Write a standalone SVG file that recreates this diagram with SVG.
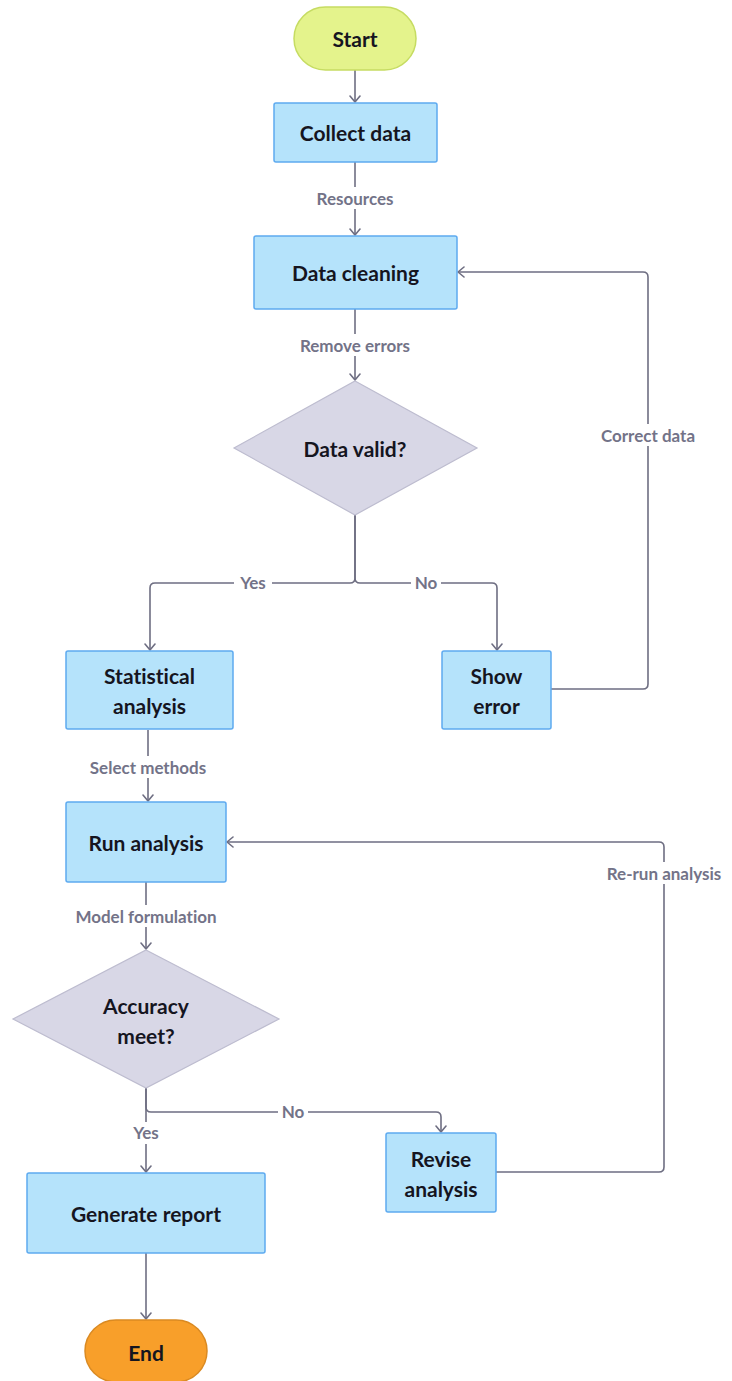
<svg xmlns="http://www.w3.org/2000/svg" width="732" height="1381" viewBox="0 0 732 1381">
  <defs>
    <marker id="arrow" viewBox="0 0 12 12" refX="11" refY="6" markerWidth="12" markerHeight="12" markerUnits="userSpaceOnUse" orient="auto">
      <path d="M5,1 L11,6 L5,11" fill="none" stroke="#6e6e82" stroke-width="1.6" stroke-linecap="round" stroke-linejoin="round"/>
    </marker>
  </defs>
  <style>
    .box { fill: #b5e3fb; stroke: #5eaaf0; stroke-width: 1.5; }
    .dec { fill: #d8d7e6; stroke: #bdbccf; stroke-width: 1.2; }
    .start { fill: #e4f38c; stroke: #c6dc62; stroke-width: 1.5; }
    .end { fill: #f89f2a; stroke: #da8a22; stroke-width: 1.5; }
    .txt { font-family: Lato, "Noto Sans", sans-serif; font-weight: 700; font-size: 21px; fill: #15151f; text-anchor: middle; dominant-baseline: central; font-variant-ligatures: none; }
    .edge { fill: none; stroke: #6e6e82; stroke-width: 1.6; marker-end: url(#arrow); }
    .lbl { font-family: Lato, "Noto Sans", sans-serif; font-weight: 700; font-size: 17px; fill: #737388; text-anchor: middle; dominant-baseline: central; font-variant-ligatures: none; }
    .lblbg { fill: #ffffff; }
  </style>
  <rect width="732" height="1381" fill="#ffffff"/>

  <!-- connectors -->
  <g id="connectors">
    <path class="edge" d="M355,70 V102"/>
    <path class="edge" d="M355,162 V235"/>
    <path class="edge" d="M355,309 V380"/>
    <path class="edge" d="M355,515 V578 Q355,583 350,583 H155 Q150,583 150,588 V650"/>
    <path class="edge" d="M355,515 V578 Q355,583 360,583 H492 Q497,583 497,588 V650"/>
    <path class="edge" d="M551,689 H643 Q648,689 648,684 V277 Q648,272 643,272 H458"/>
    <path class="edge" d="M148,730 V801"/>
    <path class="edge" d="M146,882 V949"/>
    <path class="edge" d="M146,1088 V1172"/>
    <path class="edge" d="M146,1088 V1107 Q146,1112 151,1112 H436 Q441,1112 441,1117 V1132"/>
    <path class="edge" d="M496,1172 H659 Q664,1172 664,1167 V847 Q664,842 659,842 H227"/>
    <path class="edge" d="M146,1253 V1319"/>

    <!-- edge labels -->
    <rect class="lblbg" x="305" y="187" width="100" height="22"/>
    <text class="lbl" x="355" y="198">Resources</text>
    <rect class="lblbg" x="292" y="334" width="126" height="22"/>
    <text class="lbl" x="355" y="345">Remove errors</text>
    <rect class="lblbg" x="234" y="572" width="38" height="22"/>
    <text class="lbl" x="253" y="582">Yes</text>
    <rect class="lblbg" x="411" y="572" width="30" height="22"/>
    <text class="lbl" x="426" y="582">No</text>
    <rect class="lblbg" x="593" y="424" width="110" height="22"/>
    <text class="lbl" x="648" y="435">Correct data</text>
    <rect class="lblbg" x="80" y="756" width="136" height="22"/>
    <text class="lbl" x="148" y="767">Select methods</text>
    <rect class="lblbg" x="66" y="905" width="160" height="22"/>
    <text class="lbl" x="146" y="916">Model formulation</text>
    <rect class="lblbg" x="126" y="1122" width="40" height="22"/>
    <text class="lbl" x="146" y="1132">Yes</text>
    <rect class="lblbg" x="278" y="1101" width="30" height="22"/>
    <text class="lbl" x="293" y="1111">No</text>
    <rect class="lblbg" x="596" y="862" width="136" height="22"/>
    <text class="lbl" x="664" y="873">Re-run analysis</text>
  </g>

  <!-- nodes -->
  <g id="start">
    <rect class="start" x="294" y="7" width="122" height="63" rx="31.5"/>
    <text class="txt" x="355" y="38.5">Start</text>
  </g>
  <g id="collect-data">
    <rect class="box" x="274" y="103" width="163" height="59" rx="2"/>
    <text class="txt" x="355.5" y="132.5">Collect data</text>
  </g>
  <g id="data-cleaning">
    <rect class="box" x="254" y="236" width="203" height="73" rx="2"/>
    <text class="txt" x="355.5" y="272.5">Data cleaning</text>
  </g>
  <g id="data-valid">
    <polygon class="dec" points="355,381 477,448 355,515 234,448"/>
    <text class="txt" x="355" y="448">Data valid?</text>
  </g>
  <g id="statistical-analysis">
    <rect class="box" x="66" y="651" width="167" height="78" rx="2"/>
    <text class="txt" x="149.5" y="675">Statistical</text>
    <text class="txt" x="149.5" y="705">analysis</text>
  </g>
  <g id="show-error">
    <rect class="box" x="442" y="651" width="109" height="78" rx="2"/>
    <text class="txt" x="496.5" y="675">Show</text>
    <text class="txt" x="496.5" y="705">error</text>
  </g>
  <g id="run-analysis">
    <rect class="box" x="66" y="802" width="160" height="80" rx="2"/>
    <text class="txt" x="146" y="842">Run analysis</text>
  </g>
  <g id="accuracy-meet">
    <polygon class="dec" points="146,950 279,1019 146,1088 13,1019"/>
    <text class="txt" x="146" y="1005">Accuracy</text>
    <text class="txt" x="146" y="1035">meet?</text>
  </g>
  <g id="revise-analysis">
    <rect class="box" x="386" y="1133" width="110" height="79" rx="2"/>
    <text class="txt" x="441" y="1158">Revise</text>
    <text class="txt" x="441" y="1188">analysis</text>
  </g>
  <g id="generate-report">
    <rect class="box" x="27" y="1173" width="238" height="80" rx="2"/>
    <text class="txt" x="146" y="1213">Generate report</text>
  </g>
  <g id="end">
    <rect class="end" x="85" y="1320" width="122" height="62" rx="31"/>
    <text class="txt" x="146" y="1352">End</text>
  </g>
</svg>
